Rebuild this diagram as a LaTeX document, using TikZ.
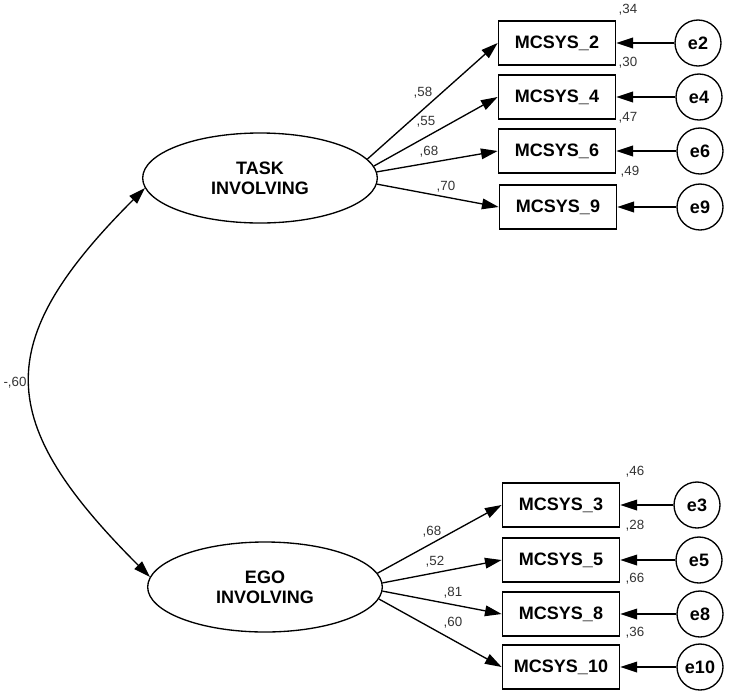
\documentclass[tikz,border=0pt]{standalone}
\usepackage{fontspec}
\setmainfont{Liberation Sans}
\usetikzlibrary{arrows.meta,shapes.geometric}
\begin{document}
\begin{tikzpicture}[x=0.75pt,y=-0.75pt,
  every node/.style={inner sep=0pt},
  bigfont/.style={font=\fontsize{13.5}{15}\selectfont\bfseries},
  lat/.style={draw,line width=1pt,ellipse,minimum width=176pt,minimum height=67.5pt,bigfont,align=center},
  obs/.style={draw,line width=1.3pt,rectangle,minimum width=87.75pt,minimum height=33pt,bigfont},
  err/.style={draw,line width=1pt,circle,minimum size=34.5pt,bigfont},
  num/.style={font=\fontsize{10}{12}\selectfont,text=black!80},
  tip/.style={Triangle[length=12.5pt,width=8pt]},
  arr/.style={line width=1pt,-{Triangle[length=12.5pt,width=8pt]}},
  corr/.style={line width=1pt,{Triangle[length=12.5pt,width=8pt]}-{Triangle[length=12.5pt,width=8pt]}},
]
\useasboundingbox (0,0) rectangle (732,697);

% latent variables
\node[lat] (task) at (260,178) {TASK\\INVOLVING};
\node[lat] (ego) at (265,587) {EGO\\INVOLVING};

% observed - top
\node[obs] (m2) at (557,43) {MCSYS\_2};
\node[obs] (m4) at (557,97) {MCSYS\_4};
\node[obs] (m6) at (557,151) {MCSYS\_6};
\node[obs] (m9) at (558,207) {MCSYS\_9};
% observed - bottom
\node[obs] (m3) at (561,505) {MCSYS\_3};
\node[obs] (m5) at (561,560) {MCSYS\_5};
\node[obs] (m8) at (561,614) {MCSYS\_8};
\node[obs] (m10) at (561,667) {MCSYS\_10};

% errors
\node[err] (e2) at (698,43) {e2};
\node[err] (e4) at (699,97) {e4};
\node[err] (e6) at (700,151) {e6};
\node[err] (e9) at (700,207) {e9};
\node[err] (e3) at (697,505) {e3};
\node[err] (e5) at (699,560) {e5};
\node[err] (e8) at (700,614) {e8};
\node[err] (e10) at (700,667) {e10};

% loadings
\draw[arr] (task.10) -- (m2.west);
\draw[arr] (task.6) -- (m4.west);
\draw[arr] (task.3) -- (m6.west);
\draw[arr] (task.-3) -- (m9.west);
\draw[arr] (ego.7) -- (m3.west);
\draw[arr] (ego.2) -- (m5.west);
\draw[arr] (ego.-2) -- (m8.west);
\draw[arr] (ego.-6) -- (m10.west);

% error arrows
\foreach \e/\m in {e2/m2,e4/m4,e6/m6,e9/m9,e3/m3,e5/m5,e8/m8,e10/m10}
  \draw[arr] (\e) -- (\m);

% correlation
\draw[corr] (ego.175) .. controls +(-155,-155) and +(-155,155) .. (task.185);

% labels
\node[num] (l58) at (423,93) {,58};
\node[num] (l55) at (426,122) {,55};
\node[num] (l68a) at (429,152) {,68};
\node[num] (l70) at (446,187) {,70};
\node[num] (v34) at (628,10) {,34};
\node[num] (v30) at (628,63) {,30};
\node[num] (v47) at (628,118) {,47};
\node[num] (v49) at (630,172) {,49};
\node[num] (l68b) at (432,532) {,68};
\node[num] (l52) at (435,562) {,52};
\node[num] (l81) at (453,593) {,81};
\node[num] (l60) at (453,623) {,60};
\node[num] (v46) at (635,472) {,46};
\node[num] (v28) at (635,526) {,28};
\node[num] (v66) at (635,579) {,66};
\node[num] (v36) at (635,633) {,36};
\node[num] (r60) at (15,383) {-,60};
\end{tikzpicture}
\end{document}
